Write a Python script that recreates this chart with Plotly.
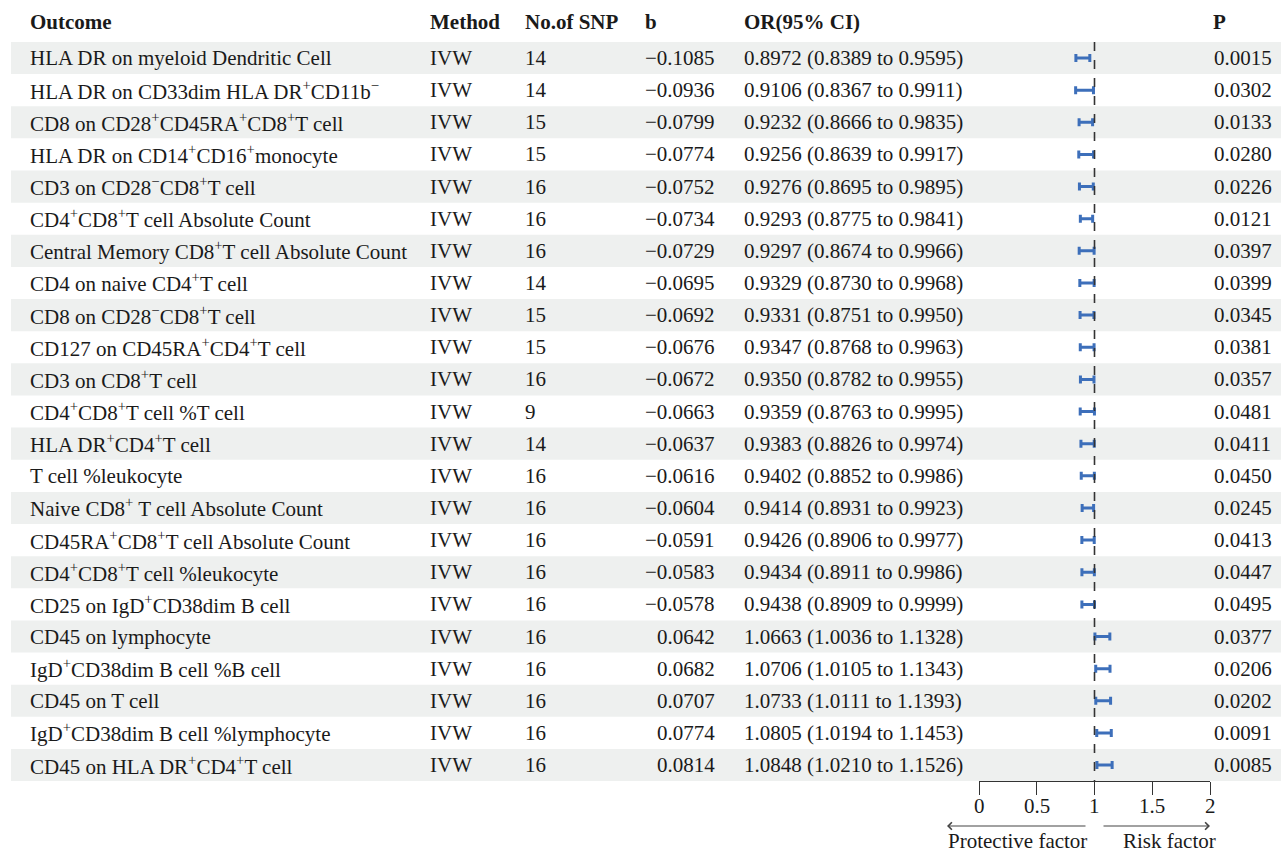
import plotly.graph_objects as go

# ---- table data ----
outcomes = [
    "HLA DR on myeloid Dendritic Cell",
    "HLA DR on CD33dim HLA DR<sup>+</sup>CD11b<sup>−</sup>",
    "CD8 on CD28<sup>+</sup>CD45RA<sup>+</sup>CD8<sup>+</sup>T cell",
    "HLA DR on CD14<sup>+</sup>CD16<sup>+</sup>monocyte",
    "CD3 on CD28<sup>−</sup>CD8<sup>+</sup>T cell",
    "CD4<sup>+</sup>CD8<sup>+</sup>T cell Absolute Count",
    "Central Memory CD8<sup>+</sup>T cell Absolute Count",
    "CD4 on naive CD4<sup>+</sup>T cell",
    "CD8 on CD28<sup>−</sup>CD8<sup>+</sup>T cell",
    "CD127 on CD45RA<sup>+</sup>CD4<sup>+</sup>T cell",
    "CD3 on CD8<sup>+</sup>T cell",
    "CD4<sup>+</sup>CD8<sup>+</sup>T cell %T cell",
    "HLA DR<sup>+</sup>CD4<sup>+</sup>T cell",
    "T cell %leukocyte",
    "Naive CD8<sup>+</sup> T cell Absolute Count",
    "CD45RA<sup>+</sup>CD8<sup>+</sup>T cell Absolute Count",
    "CD4<sup>+</sup>CD8<sup>+</sup>T cell %leukocyte",
    "CD25 on IgD<sup>+</sup>CD38dim B cell",
    "CD45 on lymphocyte",
    "IgD<sup>+</sup>CD38dim B cell %B cell",
    "CD45 on T cell",
    "IgD<sup>+</sup>CD38dim B cell %lymphocyte",
    "CD45 on HLA DR<sup>+</sup>CD4<sup>+</sup>T cell",
]
method = ["IVW"] * 23
n_snp = [14, 14, 15, 15, 16, 16, 16, 14, 15, 15, 16, 9, 14, 16, 16, 16, 16, 16,
         16, 16, 16, 16, 16]
beta = [-0.1085, -0.0936, -0.0799, -0.0774, -0.0752, -0.0734, -0.0729, -0.0695,
        -0.0692, -0.0676, -0.0672, -0.0663, -0.0637, -0.0616, -0.0604, -0.0591,
        -0.0583, -0.0578, 0.0642, 0.0682, 0.0707, 0.0774, 0.0814]
odds = [0.8972, 0.9106, 0.9232, 0.9256, 0.9276, 0.9293, 0.9297, 0.9329, 0.9331,
        0.9347, 0.9350, 0.9359, 0.9383, 0.9402, 0.9414, 0.9426, 0.9434, 0.9438,
        1.0663, 1.0706, 1.0733, 1.0805, 1.0848]
ci_low = [0.8389, 0.8367, 0.8666, 0.8639, 0.8695, 0.8775, 0.8674, 0.8730, 0.8751,
          0.8768, 0.8782, 0.8763, 0.8826, 0.8852, 0.8931, 0.8906, 0.8911, 0.8909,
          1.0036, 1.0105, 1.0111, 1.0194, 1.0210]
ci_high = [0.9595, 0.9911, 0.9835, 0.9917, 0.9895, 0.9841, 0.9966, 0.9968, 0.9950,
           0.9963, 0.9955, 0.9995, 0.9974, 0.9986, 0.9923, 0.9977, 0.9986, 0.9999,
           1.1328, 1.1343, 1.1393, 1.1453, 1.1526]
p_val = ["0.0015", "0.0302", "0.0133", "0.0280", "0.0226", "0.0121", "0.0397",
         "0.0399", "0.0345", "0.0381", "0.0357", "0.0481", "0.0411", "0.0450",
         "0.0245", "0.0413", "0.0447", "0.0495", "0.0377", "0.0206", "0.0202",
         "0.0091", "0.0085"]
headers = ["Outcome", "Method", "No.of SNP", "b", "OR(95% CI)", "P"]
x_ticks = [0, 0.5, 1, 1.5, 2]

W, H = 1287, 852
FONT = "Liberation Serif, Times New Roman, serif"
TXT = "#1a1a1a"
FS = 21
BAR = "#3d6fba"
BAND = "#eef0ef"

rows = list(range(len(outcomes)))
# pixel layout of the table
row0_px, row_h = 58.0, 32.14
axis_px = 781.0
y_top = -row0_px / row_h
y_bot = (axis_px - row0_px) / row_h

def px(x):
    return x / W

fig = go.Figure()

# confidence intervals
fig.add_trace(go.Scatter(
    x=odds, y=rows, mode="markers",
    marker=dict(size=1, color=BAR, opacity=0),
    error_x=dict(type="data", symmetric=False,
                 array=[h - o for h, o in zip(ci_high, odds)],
                 arrayminus=[o - l for o, l in zip(odds, ci_low)],
                 color=BAR, thickness=3, width=4),
    showlegend=False, hoverinfo="skip",
))

shapes = []
# striped row bands
for i in rows:
    if i % 2 == 0:
        shapes.append(dict(type="rect", xref="paper", yref="y",
                           x0=px(11), x1=px(1281), y0=i - 0.5, y1=i + 0.5,
                           fillcolor=BAND, line=dict(width=0), layer="below"))
# reference line at OR = 1
shapes.append(dict(type="line", xref="x", yref="y", x0=1, x1=1,
                   y0=-0.5, y1=len(rows) - 0.5,
                   line=dict(color="#333333", width=1.6, dash="dash")))

def label(x, y, text, anchor="left", xref="paper", yref="y", bold=False):
    return dict(x=px(x) if xref == "paper" else x, y=y, xref=xref, yref=yref,
                text=f"<b>{text}</b>" if bold else text,
                xanchor=anchor, yanchor="middle", showarrow=False,
                borderpad=0, borderwidth=0,
                font=dict(family=FONT, size=FS, color=TXT))

ann = []
hdr_y = -1.12
hdr_x = [30, 430, 525, 645, 744, 1213]
for hx, h in zip(hdr_x, headers):
    ann.append(label(hx, hdr_y, h, bold=True))

def fmt_b(v):
    s = f"{abs(v):.4f}"
    return ("−" + s) if v < 0 else s

for i in rows:
    ann.append(label(30, i, outcomes[i]))
    ann.append(label(430, i, method[i]))
    ann.append(label(525, i, str(n_snp[i])))
    ann.append(label(715, i, fmt_b(beta[i]), anchor="right"))
    ann.append(label(744, i, f"{odds[i]:.4f} ({ci_low[i]:.4f} to {ci_high[i]:.4f})"))
    ann.append(label(1214, i, p_val[i]))

# tick labels of the OR axis
tick_y = 1 - 806 / H
for t in x_ticks:
    ann.append(label(t, tick_y, f"{t:g}", anchor="center", xref="x", yref="paper"))

# direction arrows below the axis
arrow_y = 1 - 826 / H
ann.append(dict(x=px(947), y=arrow_y, ax=140, ay=0,
                xref="paper", yref="paper", axref="pixel", ayref="pixel",
                showarrow=True, arrowhead=4, arrowsize=1.2, arrowwidth=1.2,
                arrowcolor="#444444", text=""))
ann.append(dict(x=px(1210), y=arrow_y, ax=-108, ay=0,
                xref="paper", yref="paper", axref="pixel", ayref="pixel",
                showarrow=True, arrowhead=4, arrowsize=1.2, arrowwidth=1.2,
                arrowcolor="#444444", text=""))
fy = 1 - 841 / H
ann.append(label(1017, fy, "Protective factor", anchor="center", yref="paper"))
ann.append(label(1169, fy, "Risk factor", anchor="center", yref="paper"))

fig.update_layout(
    width=W, height=H,
    margin=dict(l=0, r=0, t=0, b=0),
    paper_bgcolor="white", plot_bgcolor="rgba(0,0,0,0)",
    shapes=shapes, annotations=ann,
    xaxis=dict(domain=[px(979), px(1210)], range=[0, 2], tickvals=x_ticks,
               showticklabels=False,
               showline=True, linecolor="#333333", linewidth=1.2,
               ticks="outside", ticklen=13, tickwidth=1.2, tickcolor="#333333",
               showgrid=False, zeroline=False),
    yaxis=dict(domain=[1 - axis_px / H, 1], range=[y_bot, y_top],
               showticklabels=False, showgrid=False, zeroline=False,
               showline=False, ticks=""),
)

fig.write_html("out.html")
